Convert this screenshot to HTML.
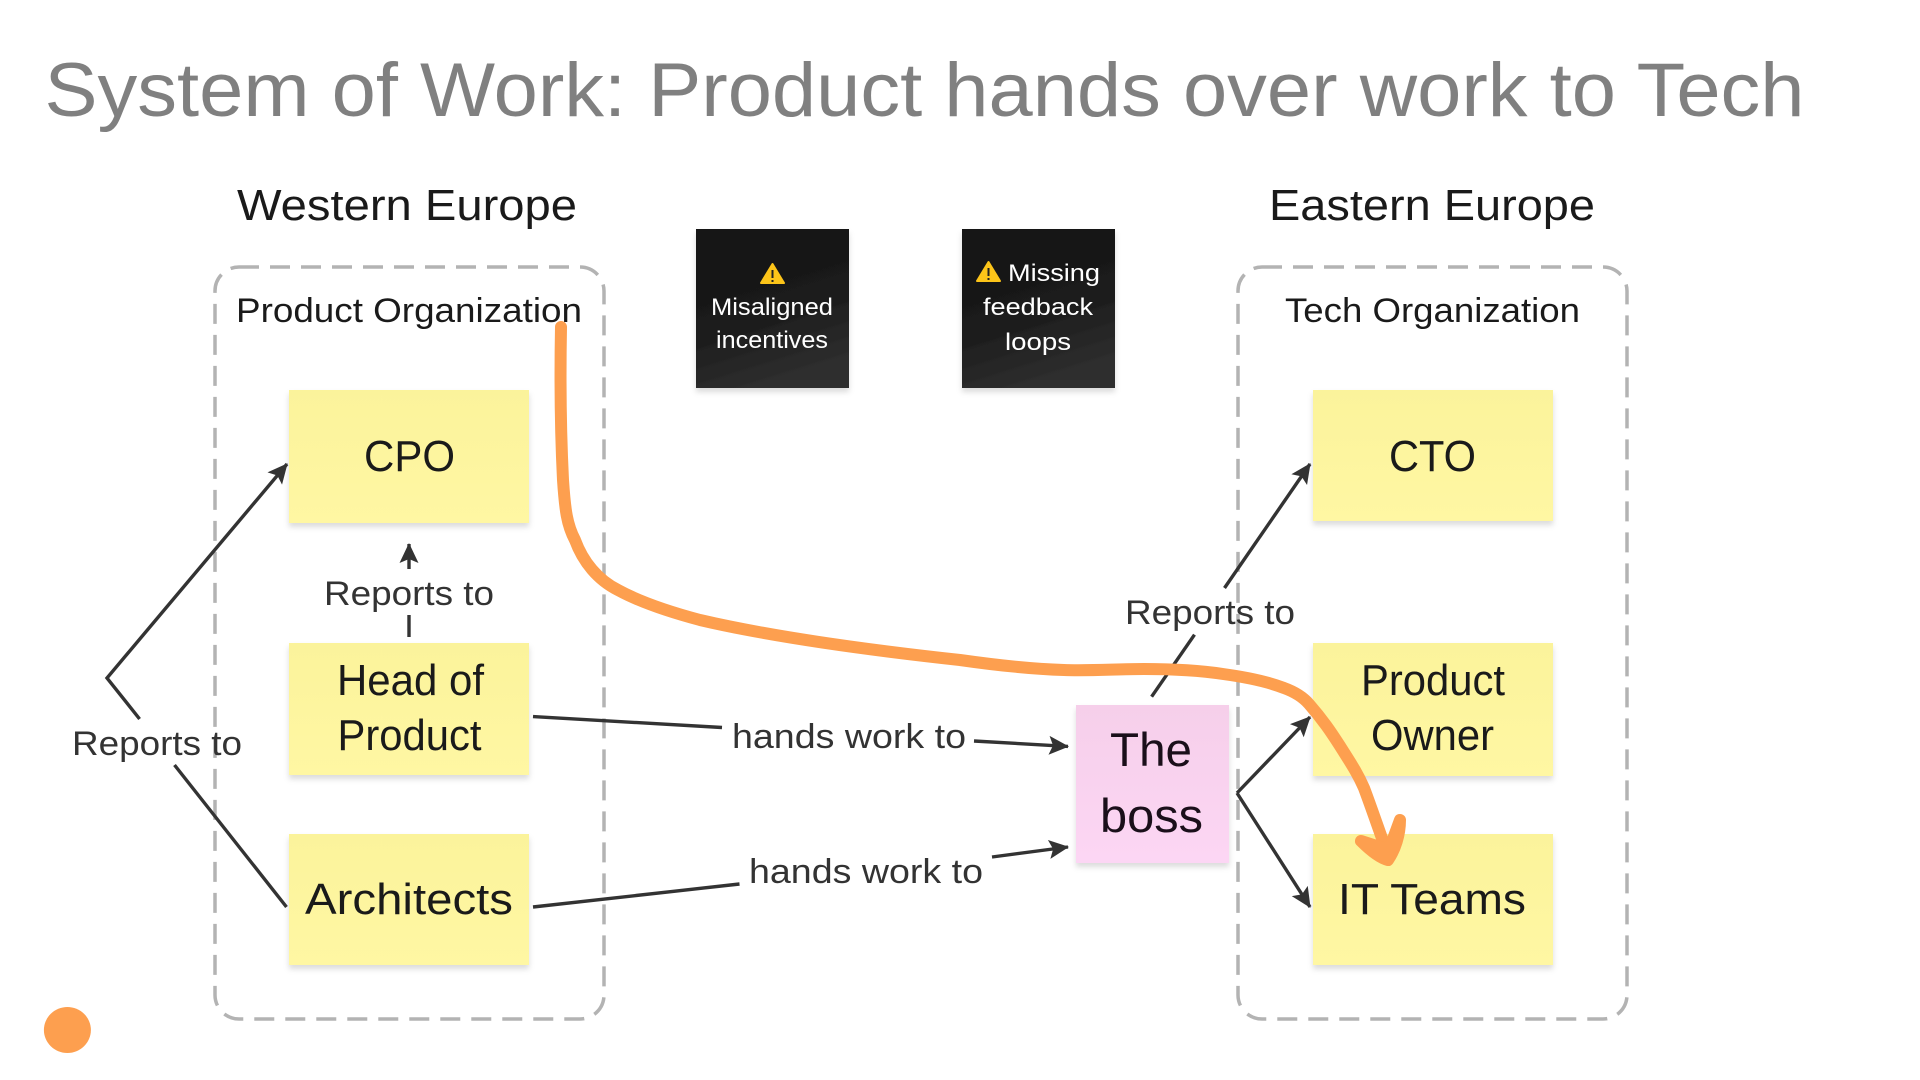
<!DOCTYPE html>
<html lang="en">
<head>
<meta charset="utf-8">
<title>System of Work</title>
<style>
html,body{margin:0;padding:0;background:#fff;width:1920px;height:1080px;overflow:hidden}
svg{display:block}
text{font-family:"Liberation Sans",sans-serif}
</style>
</head>
<body>
<svg xmlns="http://www.w3.org/2000/svg" width="1920" height="1080" viewBox="0 0 1920 1080">
<defs>
<filter id="sh" x="-10%" y="-10%" width="120%" height="125%">
<feDropShadow dx="0" dy="4" stdDeviation="3" flood-color="#000" flood-opacity=".14"/>
</filter>
<linearGradient id="y" x1="0" y1="0" x2="0" y2="1"><stop offset="0" stop-color="#fbf39b"/><stop offset="1" stop-color="#fff7a3"/></linearGradient>
<linearGradient id="p" x1="0" y1="0" x2="0" y2="1"><stop offset="0" stop-color="#f6cfea"/><stop offset="1" stop-color="#fcd6f4"/></linearGradient>
<linearGradient id="k" x1="0" y1="0" x2="0.3" y2="1"><stop offset="0" stop-color="#131313"/><stop offset=".6" stop-color="#1b1b1b"/><stop offset="1" stop-color="#2d2d2d"/></linearGradient>
<marker id="a" markerUnits="userSpaceOnUse" markerWidth="26" markerHeight="26" viewBox="-23 -13 26 26" refX="0" refY="0" orient="auto" overflow="visible">
<path d="M1,0 L-19,-9.5 L-15,0 L-19,9.5 Z" fill="#333"/>
</marker>
</defs>

<text x="44.5" y="116" font-size="76" fill="#808080" textLength="1760" lengthAdjust="spacingAndGlyphs">System of Work: Product hands over work to Tech</text>
<text x="237" y="220" font-size="44" fill="#1a1a1a" textLength="340" lengthAdjust="spacingAndGlyphs">Western Europe</text>
<text x="1269" y="220" font-size="44" fill="#1a1a1a" textLength="326" lengthAdjust="spacingAndGlyphs">Eastern Europe</text>

<g fill="none" stroke="#b3b3b3" stroke-width="3.5" stroke-dasharray="20 11">
<rect x="215" y="267" width="389" height="752" rx="24"/>
<rect x="1238" y="267" width="389" height="752" rx="24"/>
</g>

<text x="236" y="322" font-size="34" fill="#1a1a1a" textLength="346" lengthAdjust="spacingAndGlyphs">Product Organization</text>
<text x="1285" y="322" font-size="34" fill="#1a1a1a" textLength="295" lengthAdjust="spacingAndGlyphs">Tech Organization</text>

<g filter="url(#sh)">
<rect x="289" y="390" width="240" height="133" fill="url(#y)"/>
<rect x="289" y="643" width="240" height="132" fill="url(#y)"/>
<rect x="289" y="834" width="240" height="131" fill="url(#y)"/>
<rect x="1313" y="390" width="240" height="131" fill="url(#y)"/>
<rect x="1313" y="643" width="240" height="133" fill="url(#y)"/>
<rect x="1313" y="834" width="240" height="131" fill="url(#y)"/>
<rect x="1076" y="705" width="153" height="158" fill="url(#p)"/>
<rect x="696" y="229" width="153" height="159" fill="url(#k)"/>
<rect x="962" y="229" width="153" height="159" fill="url(#k)"/>
</g>

<g fill="#1a1a1a" font-size="44">
<text x="364" y="471" textLength="91" lengthAdjust="spacingAndGlyphs">CPO</text>
<text x="337" y="695" textLength="147" lengthAdjust="spacingAndGlyphs">Head of</text>
<text x="337.5" y="750" textLength="144" lengthAdjust="spacingAndGlyphs">Product</text>
<text x="305" y="914" textLength="208" lengthAdjust="spacingAndGlyphs">Architects</text>
<text x="1389" y="471" textLength="87" lengthAdjust="spacingAndGlyphs">CTO</text>
<text x="1361" y="695" textLength="144" lengthAdjust="spacingAndGlyphs">Product</text>
<text x="1371" y="750" textLength="123" lengthAdjust="spacingAndGlyphs">Owner</text>
<text x="1338" y="914" textLength="188" lengthAdjust="spacingAndGlyphs">IT Teams</text>
</g>
<g fill="#1a0f1a" font-size="47">
<text x="1110" y="766" textLength="82" lengthAdjust="spacingAndGlyphs">The</text>
<text x="1100" y="832" textLength="103" lengthAdjust="spacingAndGlyphs">boss</text>
</g>

<g fill="#fff" font-size="24">
<text x="711" y="315" textLength="122" lengthAdjust="spacingAndGlyphs">Misaligned</text>
<text x="716" y="348" textLength="112" lengthAdjust="spacingAndGlyphs">incentives</text>
<text x="1008" y="281" textLength="92" lengthAdjust="spacingAndGlyphs">Missing</text>
<text x="983" y="315" textLength="110" lengthAdjust="spacingAndGlyphs">feedback</text>
<text x="1005" y="350" textLength="66" lengthAdjust="spacingAndGlyphs">loops</text>
</g>
<g>
<path d="M772.5,264 L784,283 L761,283 Z" fill="#fcc419" stroke="#fcc419" stroke-width="2" stroke-linejoin="round"/>
<path d="M772.5,270 V278 M772.5,280 V282" stroke="#222" stroke-width="2"/>
<path d="M988.5,262 L1000,281 L977,281 Z" fill="#fcc419" stroke="#fcc419" stroke-width="2" stroke-linejoin="round"/>
<path d="M988.5,268 V276 M988.5,278 V280" stroke="#222" stroke-width="2"/>
</g>

<g fill="none" stroke="#333" stroke-width="3.4">
<path d="M139.6,719 L107,678 L287,464" marker-end="url(#a)"/>
<path d="M174.5,765 L286.5,907"/>
<path d="M409,569 V544" marker-end="url(#a)"/>
<path d="M409,615 V637"/>
<path d="M533,716.6 L722,727.5"/>
<path d="M974,741 L1068,746.4" marker-end="url(#a)"/>
<path d="M533,907 L739.5,884"/>
<path d="M992,857 L1068,847" marker-end="url(#a)"/>
<path d="M1151.6,696.7 L1194.5,634.7"/>
<path d="M1224.5,588 L1310,464" marker-end="url(#a)"/>
<path d="M1237,793 L1310,717" marker-end="url(#a)"/>
<path d="M1237,793 L1310,907" marker-end="url(#a)"/>
</g>

<g fill="#333" font-size="34">
<text x="324" y="605" textLength="170" lengthAdjust="spacingAndGlyphs">Reports to</text>
<text x="72" y="755" textLength="170" lengthAdjust="spacingAndGlyphs">Reports to</text>
<text x="1125" y="624" textLength="170" lengthAdjust="spacingAndGlyphs">Reports to</text>
<text x="732" y="748" textLength="234" lengthAdjust="spacingAndGlyphs">hands work to</text>
<text x="749" y="883" textLength="234" lengthAdjust="spacingAndGlyphs">hands work to</text>
</g>

<g stroke="#fd9f4f" stroke-width="12" stroke-linecap="round" stroke-linejoin="round">
<path fill="none" d="M561,327 C560,380 561,440 563,480 C565,510 567,525 575,540 C583,562 598,580 618,590 C640,602 670,612 700,620 C760,634 850,648 960,660 C995,665 1030,669 1064,670 C1090,671 1117,669 1144,669 C1170,669 1197,670 1223,674 C1245,677 1266,681 1284,688 C1295,692 1303,697 1309,704 C1323,720 1331,732 1340,746 C1350,762 1357,772 1364,788 C1373,812 1381,836 1389,858"/>
<path fill="#fd9f4f" d="M1361,841 C1370,850 1380,858 1388,860 C1395,850 1400,835 1400,820 L1389,850 Z"/>
</g>

<ellipse cx="67.4" cy="1030" rx="23.5" ry="23" fill="#fd9f4f"/>
</svg>
</body>
</html>
